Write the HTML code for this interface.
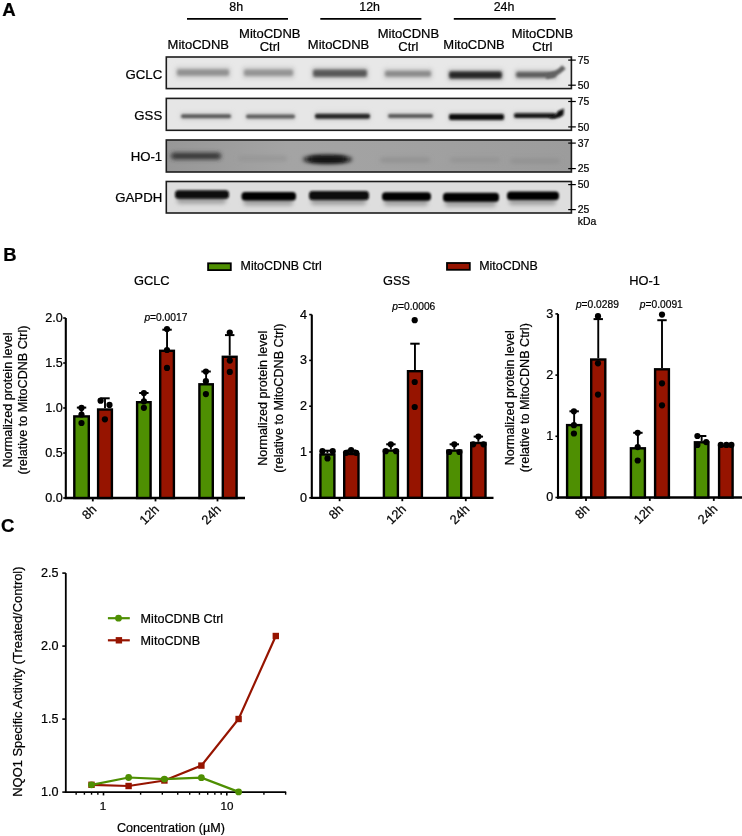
<!DOCTYPE html>
<html><head><meta charset="utf-8"><style>
html,body{margin:0;padding:0;background:#fff;}
svg{display:block;font-family:"Liberation Sans", sans-serif;will-change:transform;} text{stroke:#000;stroke-width:0.22px;}
</style></head><body>
<svg width="742" height="836" viewBox="0 0 742 836" font-family='"Liberation Sans", sans-serif'>
<rect x="0" y="0" width="742" height="836" fill="#fff"/>
<text x="2.20" y="15.50" font-size="18.6" text-anchor="start" font-weight="bold" font-style="normal" >A</text>
<text x="236.20" y="10.80" font-size="12.4" text-anchor="middle" font-weight="normal" font-style="normal" >8h</text>
<line x1="187.00" y1="18.90" x2="288.00" y2="18.90" stroke="#000" stroke-width="1.6" />
<text x="369.60" y="10.80" font-size="12.4" text-anchor="middle" font-weight="normal" font-style="normal" >12h</text>
<line x1="320.30" y1="18.90" x2="421.40" y2="18.90" stroke="#000" stroke-width="1.6" />
<text x="504.00" y="10.80" font-size="12.4" text-anchor="middle" font-weight="normal" font-style="normal" >24h</text>
<line x1="453.80" y1="18.90" x2="555.70" y2="18.90" stroke="#000" stroke-width="1.6" />
<text x="198.30" y="48.70" font-size="13" text-anchor="middle" font-weight="normal" font-style="normal" >MitoCDNB</text>
<text x="269.80" y="37.70" font-size="13" text-anchor="middle" font-weight="normal" font-style="normal" >MitoCDNB</text>
<text x="269.80" y="51.20" font-size="13" text-anchor="middle" font-weight="normal" font-style="normal" >Ctrl</text>
<text x="338.50" y="48.70" font-size="13" text-anchor="middle" font-weight="normal" font-style="normal" >MitoCDNB</text>
<text x="408.40" y="37.70" font-size="13" text-anchor="middle" font-weight="normal" font-style="normal" >MitoCDNB</text>
<text x="408.40" y="51.20" font-size="13" text-anchor="middle" font-weight="normal" font-style="normal" >Ctrl</text>
<text x="474.00" y="48.70" font-size="13" text-anchor="middle" font-weight="normal" font-style="normal" >MitoCDNB</text>
<text x="542.40" y="37.70" font-size="13" text-anchor="middle" font-weight="normal" font-style="normal" >MitoCDNB</text>
<text x="542.40" y="51.20" font-size="13" text-anchor="middle" font-weight="normal" font-style="normal" >Ctrl</text>
<defs><filter id="bl" x="-20%" y="-100%" width="140%" height="300%"><feGaussianBlur stdDeviation="1.1"/></filter><filter id="bl2" x="-20%" y="-100%" width="140%" height="300%"><feGaussianBlur stdDeviation="2.2"/></filter><filter id="bl3" x="-20%" y="-100%" width="140%" height="300%"><feGaussianBlur stdDeviation="1.6"/></filter><clipPath id="c0"><rect x="166.3" y="57" width="405.1" height="31.6"/></clipPath><clipPath id="c1"><rect x="166.3" y="98.4" width="405.1" height="31.9"/></clipPath><clipPath id="c2"><rect x="166.3" y="140" width="405.1" height="32"/></clipPath><clipPath id="c3"><rect x="166.3" y="181.5" width="405.1" height="31.5"/></clipPath><linearGradient id="hog" x1="0" x2="1" y1="0" y2="0"><stop offset="0" stop-color="#979797"/><stop offset="0.3" stop-color="#a4a4a4"/><stop offset="0.55" stop-color="#a2a2a2"/><stop offset="1" stop-color="#9c9c9c"/></linearGradient></defs>
<text x="162.20" y="78.50" font-size="13.2" text-anchor="end" font-weight="normal" font-style="normal" >GCLC</text>
<rect x="166.30" y="57.00" width="405.10" height="31.60" fill="#e8e8e8" stroke="none" stroke-width="0" />
<g clip-path="url(#c0)">
<rect x="175" y="66.35" width="56" height="12.5" rx="3" fill="#d2d2d2" opacity="1" filter="url(#bl2)"/>
<rect x="177" y="69.35" width="52" height="6.5" rx="2" fill="#929292" opacity="1" filter="url(#bl3)"/>
<rect x="242" y="66.55" width="53" height="12.5" rx="3" fill="#d2d2d2" opacity="1" filter="url(#bl2)"/>
<rect x="244" y="69.55" width="49" height="6.5" rx="2" fill="#949494" opacity="1" filter="url(#bl3)"/>
<rect x="311" y="66.45" width="58" height="13.5" rx="3" fill="#d2d2d2" opacity="1" filter="url(#bl2)"/>
<rect x="313" y="69.45" width="54" height="7.5" rx="2" fill="#585858" opacity="1" filter="url(#bl3)"/>
<rect x="383" y="67.80" width="50" height="12" rx="3" fill="#d2d2d2" opacity="1" filter="url(#bl2)"/>
<rect x="385" y="70.80" width="46" height="6" rx="2" fill="#8a8a8a" opacity="1" filter="url(#bl3)"/>
<rect x="447" y="68.25" width="57" height="13.5" rx="3" fill="#d2d2d2" opacity="1" filter="url(#bl2)"/>
<rect x="449" y="71.25" width="53" height="7.5" rx="2" fill="#262626" opacity="1" filter="url(#bl3)"/>
<rect x="514" y="68.80" width="44" height="12" rx="3" fill="#d2d2d2" opacity="1" filter="url(#bl2)"/>
<rect x="516" y="71.80" width="40" height="6" rx="2" fill="#5c5c5c" opacity="1" filter="url(#bl3)"/>
<path d="M546 76.5 Q556 75 564 67" stroke="#626262" stroke-width="5" fill="none" filter="url(#bl)"/>
</g>
<rect x="166.30" y="57.00" width="405.10" height="31.60" fill="none" stroke="#1c1c1c" stroke-width="1.6" />
<line x1="568.20" y1="60.10" x2="575.80" y2="60.10" stroke="#000" stroke-width="1.2" />
<line x1="568.20" y1="85.20" x2="575.80" y2="85.20" stroke="#000" stroke-width="1.2" />
<text x="577.80" y="63.70" font-size="10.4" text-anchor="start" font-weight="normal" font-style="normal" >75</text>
<text x="577.80" y="88.80" font-size="10.4" text-anchor="start" font-weight="normal" font-style="normal" >50</text>
<text x="162.20" y="120.10" font-size="13.2" text-anchor="end" font-weight="normal" font-style="normal" >GSS</text>
<rect x="166.30" y="98.40" width="405.10" height="31.90" fill="#e6e6e6" stroke="none" stroke-width="0" />
<g clip-path="url(#c1)">
<rect x="180" y="112.30" width="52" height="8" rx="3" fill="#cfcfcf" opacity="1" filter="url(#bl2)"/>
<rect x="181" y="114.30" width="50" height="4" rx="2" fill="#5a5a5a" opacity="1" filter="url(#bl)"/>
<rect x="245" y="112.60" width="51" height="8" rx="3" fill="#cfcfcf" opacity="1" filter="url(#bl2)"/>
<rect x="246" y="114.60" width="49" height="4" rx="2" fill="#5e5e5e" opacity="1" filter="url(#bl)"/>
<rect x="314" y="111.80" width="57" height="9" rx="3" fill="#cfcfcf" opacity="1" filter="url(#bl2)"/>
<rect x="315" y="113.80" width="55" height="5" rx="2" fill="#262626" opacity="1" filter="url(#bl)"/>
<rect x="387" y="112.00" width="47" height="8" rx="3" fill="#cfcfcf" opacity="1" filter="url(#bl2)"/>
<rect x="388" y="114.00" width="45" height="4" rx="2" fill="#5c5c5c" opacity="1" filter="url(#bl)"/>
<rect x="448" y="112.00" width="57" height="10" rx="3" fill="#cfcfcf" opacity="1" filter="url(#bl2)"/>
<rect x="449" y="114.00" width="55" height="6" rx="2" fill="#101010" opacity="1" filter="url(#bl)"/>
<rect x="513" y="111.20" width="44" height="8.8" rx="3" fill="#cfcfcf" opacity="1" filter="url(#bl2)"/>
<rect x="514" y="113.20" width="42" height="4.8" rx="2" fill="#161616" opacity="1" filter="url(#bl)"/>
<path d="M548 116.5 Q556 116.5 558 111 L564 108.5 L563.5 115 Q560 118.5 551 118.5 Z" fill="#111" filter="url(#bl)"/>
</g>
<rect x="166.30" y="98.40" width="405.10" height="31.90" fill="none" stroke="#1c1c1c" stroke-width="1.6" />
<line x1="568.20" y1="101.50" x2="575.80" y2="101.50" stroke="#000" stroke-width="1.2" />
<line x1="568.20" y1="126.90" x2="575.80" y2="126.90" stroke="#000" stroke-width="1.2" />
<text x="577.80" y="105.10" font-size="10.4" text-anchor="start" font-weight="normal" font-style="normal" >75</text>
<text x="577.80" y="130.50" font-size="10.4" text-anchor="start" font-weight="normal" font-style="normal" >50</text>
<text x="162.20" y="161.40" font-size="13.2" text-anchor="end" font-weight="normal" font-style="normal" >HO-1</text>
<rect x="166.30" y="140.00" width="405.10" height="32.00" fill="url(#hog)" stroke="none" stroke-width="0" />
<g clip-path="url(#c2)">
<rect x="171" y="152.75" width="50" height="6.5" rx="3.25" fill="#303030" opacity="1" filter="url(#bl2)"/>
<rect x="238" y="156.10" width="49" height="5" rx="2.5" fill="#969696" opacity="1" filter="url(#bl2)"/>
<ellipse cx="327.5" cy="159.4" rx="24.5" ry="4.2" fill="#0c0c0c" filter="url(#bl2)"/>
<rect x="310" y="157.0" width="35" height="4.2" rx="2.1" fill="#0c0c0c" filter="url(#bl2)"/>
<rect x="380" y="157.50" width="50" height="5" rx="2.5" fill="#929292" opacity="1" filter="url(#bl2)"/>
<rect x="450" y="157.50" width="50" height="5" rx="2.5" fill="#949494" opacity="1" filter="url(#bl2)"/>
<rect x="510" y="158.50" width="50" height="5" rx="2.5" fill="#929292" opacity="1" filter="url(#bl2)"/>
</g>
<rect x="166.30" y="140.00" width="405.10" height="32.00" fill="none" stroke="#1c1c1c" stroke-width="1.6" />
<line x1="568.20" y1="143.10" x2="575.80" y2="143.10" stroke="#000" stroke-width="1.2" />
<line x1="568.20" y1="168.60" x2="575.80" y2="168.60" stroke="#000" stroke-width="1.2" />
<text x="577.80" y="146.70" font-size="10.4" text-anchor="start" font-weight="normal" font-style="normal" >37</text>
<text x="577.80" y="172.20" font-size="10.4" text-anchor="start" font-weight="normal" font-style="normal" >25</text>
<text x="162.20" y="202.40" font-size="13.2" text-anchor="end" font-weight="normal" font-style="normal" >GAPDH</text>
<rect x="166.30" y="181.50" width="405.10" height="31.50" fill="#dedede" stroke="none" stroke-width="0" />
<g clip-path="url(#c3)">
<rect x="177" y="196.25" width="49" height="7.5" rx="3" fill="#a0a0a0" opacity="1" filter="url(#bl2)"/>
<rect x="175" y="190.25" width="54" height="8.5" rx="3.5" fill="#080808" opacity="1" filter="url(#bl)"/>
<rect x="243.5" y="197.95" width="49.5" height="7.5" rx="3" fill="#a0a0a0" opacity="1" filter="url(#bl2)"/>
<rect x="241.5" y="191.95" width="54.5" height="8.5" rx="3.5" fill="#040404" opacity="1" filter="url(#bl)"/>
<rect x="311" y="197.00" width="55" height="8" rx="3" fill="#a0a0a0" opacity="1" filter="url(#bl2)"/>
<rect x="309" y="191.00" width="60" height="9" rx="3.5" fill="#080808" opacity="1" filter="url(#bl)"/>
<rect x="384" y="198.15" width="44" height="7.5" rx="3" fill="#a0a0a0" opacity="1" filter="url(#bl2)"/>
<rect x="382" y="192.15" width="49" height="8.5" rx="3.5" fill="#060606" opacity="1" filter="url(#bl)"/>
<rect x="445" y="198.80" width="51" height="8" rx="3" fill="#a0a0a0" opacity="1" filter="url(#bl2)"/>
<rect x="443" y="192.80" width="56" height="9" rx="3.5" fill="#040404" opacity="1" filter="url(#bl)"/>
<rect x="509" y="197.55" width="47" height="7.5" rx="3" fill="#a0a0a0" opacity="1" filter="url(#bl2)"/>
<rect x="507" y="191.55" width="52" height="8.5" rx="3.5" fill="#040404" opacity="1" filter="url(#bl)"/>
</g>
<rect x="166.30" y="181.50" width="405.10" height="31.50" fill="none" stroke="#1c1c1c" stroke-width="1.6" />
<line x1="568.20" y1="184.60" x2="575.80" y2="184.60" stroke="#000" stroke-width="1.2" />
<line x1="568.20" y1="209.60" x2="575.80" y2="209.60" stroke="#000" stroke-width="1.2" />
<text x="577.80" y="188.20" font-size="10.4" text-anchor="start" font-weight="normal" font-style="normal" >50</text>
<text x="577.80" y="213.20" font-size="10.4" text-anchor="start" font-weight="normal" font-style="normal" >25</text>
<text x="577.80" y="224.90" font-size="10.4" text-anchor="start" font-weight="normal" font-style="normal" >kDa</text>
<text x="3.20" y="260.50" font-size="18.4" text-anchor="start" font-weight="bold" font-style="normal" >B</text>
<rect x="208.10" y="263.30" width="22.70" height="6.80" fill="#4e8f02" stroke="#000" stroke-width="1.8" />
<text x="240.60" y="270.30" font-size="12.4" text-anchor="start" font-weight="normal" font-style="normal" >MitoCDNB Ctrl</text>
<rect x="447.00" y="263.00" width="22.80" height="6.80" fill="#961400" stroke="#000" stroke-width="1.8" />
<text x="479.30" y="270.30" font-size="12.4" text-anchor="start" font-weight="normal" font-style="normal" >MitoCDNB</text>
<text x="151.80" y="285.30" font-size="12.8" text-anchor="middle" font-weight="normal" font-style="normal" >GCLC</text>
<line x1="65.80" y1="318.00" x2="65.80" y2="499.10" stroke="#000" stroke-width="2.1" />
<line x1="63.20" y1="498.00" x2="65.80" y2="498.00" stroke="#000" stroke-width="1.6" />
<text x="62.80" y="501.90" font-size="12.6" text-anchor="end" font-weight="normal" font-style="normal" >0.0</text>
<line x1="63.20" y1="453.00" x2="65.80" y2="453.00" stroke="#000" stroke-width="1.6" />
<text x="62.80" y="456.90" font-size="12.6" text-anchor="end" font-weight="normal" font-style="normal" >0.5</text>
<line x1="63.20" y1="408.00" x2="65.80" y2="408.00" stroke="#000" stroke-width="1.6" />
<text x="62.80" y="411.90" font-size="12.6" text-anchor="end" font-weight="normal" font-style="normal" >1.0</text>
<line x1="63.20" y1="363.00" x2="65.80" y2="363.00" stroke="#000" stroke-width="1.6" />
<text x="62.80" y="366.90" font-size="12.6" text-anchor="end" font-weight="normal" font-style="normal" >1.5</text>
<line x1="63.20" y1="318.00" x2="65.80" y2="318.00" stroke="#000" stroke-width="1.6" />
<text x="62.80" y="321.90" font-size="12.6" text-anchor="end" font-weight="normal" font-style="normal" >2.0</text>
<line x1="64.75" y1="498.00" x2="245.00" y2="498.00" stroke="#000" stroke-width="2.3" />
<line x1="92.80" y1="498.00" x2="92.80" y2="501.40" stroke="#000" stroke-width="1.8" />
<text x="0" y="0" font-size="12.8" text-anchor="end" transform="translate(97.20,510.20) rotate(-45)">8h</text>
<line x1="155.50" y1="498.00" x2="155.50" y2="501.40" stroke="#000" stroke-width="1.8" />
<text x="0" y="0" font-size="12.8" text-anchor="end" transform="translate(159.90,510.20) rotate(-45)">12h</text>
<line x1="217.50" y1="498.00" x2="217.50" y2="501.40" stroke="#000" stroke-width="1.8" />
<text x="0" y="0" font-size="12.8" text-anchor="end" transform="translate(221.90,510.20) rotate(-45)">24h</text>
<rect x="74.30" y="416.40" width="14.50" height="81.60" fill="#4e8f02" stroke="#000" stroke-width="2.4" />
<line x1="81.55" y1="415.20" x2="81.55" y2="407.60" stroke="#000" stroke-width="1.9" />
<line x1="76.85" y1="407.60" x2="86.25" y2="407.60" stroke="#000" stroke-width="2.0" />
<circle cx="81.50" cy="407.90" r="3.1" fill="#000" />
<circle cx="81.50" cy="414.50" r="3.1" fill="#000" />
<circle cx="81.50" cy="423.00" r="3.1" fill="#000" />
<rect x="98.10" y="409.50" width="13.80" height="88.50" fill="#961400" stroke="#000" stroke-width="2.4" />
<line x1="105.00" y1="408.30" x2="105.00" y2="398.30" stroke="#000" stroke-width="1.9" />
<line x1="100.30" y1="398.30" x2="109.70" y2="398.30" stroke="#000" stroke-width="2.0" />
<circle cx="100.60" cy="400.70" r="3.1" fill="#000" />
<circle cx="109.50" cy="404.90" r="3.1" fill="#000" />
<circle cx="104.90" cy="419.30" r="3.1" fill="#000" />
<rect x="137.10" y="402.20" width="13.50" height="95.80" fill="#4e8f02" stroke="#000" stroke-width="2.4" />
<line x1="143.85" y1="401.00" x2="143.85" y2="393.00" stroke="#000" stroke-width="1.9" />
<line x1="139.15" y1="393.00" x2="148.55" y2="393.00" stroke="#000" stroke-width="2.0" />
<circle cx="143.90" cy="393.00" r="3.1" fill="#000" />
<circle cx="143.90" cy="401.40" r="3.1" fill="#000" />
<circle cx="143.90" cy="407.80" r="3.1" fill="#000" />
<rect x="160.20" y="350.80" width="13.70" height="147.20" fill="#961400" stroke="#000" stroke-width="2.4" />
<line x1="167.05" y1="349.60" x2="167.05" y2="329.70" stroke="#000" stroke-width="1.9" />
<line x1="162.35" y1="329.70" x2="171.75" y2="329.70" stroke="#000" stroke-width="2.0" />
<circle cx="167.00" cy="329.10" r="3.1" fill="#000" />
<circle cx="167.00" cy="350.00" r="3.1" fill="#000" />
<circle cx="167.00" cy="367.90" r="3.1" fill="#000" />
<rect x="199.40" y="384.30" width="13.40" height="113.70" fill="#4e8f02" stroke="#000" stroke-width="2.4" />
<line x1="206.10" y1="383.10" x2="206.10" y2="371.50" stroke="#000" stroke-width="1.9" />
<line x1="201.40" y1="371.50" x2="210.80" y2="371.50" stroke="#000" stroke-width="2.0" />
<circle cx="205.90" cy="371.50" r="3.1" fill="#000" />
<circle cx="205.90" cy="381.20" r="3.1" fill="#000" />
<circle cx="205.90" cy="394.10" r="3.1" fill="#000" />
<rect x="222.80" y="356.80" width="13.80" height="141.20" fill="#961400" stroke="#000" stroke-width="2.4" />
<line x1="229.70" y1="355.60" x2="229.70" y2="335.10" stroke="#000" stroke-width="1.9" />
<line x1="225.00" y1="335.10" x2="234.40" y2="335.10" stroke="#000" stroke-width="2.0" />
<circle cx="229.80" cy="332.60" r="3.1" fill="#000" />
<circle cx="229.80" cy="360.60" r="3.1" fill="#000" />
<circle cx="229.80" cy="371.90" r="3.1" fill="#000" />
<text x="0" y="0" font-size="12.6" text-anchor="middle" transform="translate(11.50,400.00) rotate(-90)">Normalized protein level</text>
<text x="0" y="0" font-size="12.6" text-anchor="middle" transform="translate(27.00,400.00) rotate(-90)">(relative to MitoCDNB Ctrl)</text>
<text x="144.40" y="321.20" font-size="11.3" textLength="43" lengthAdjust="spacingAndGlyphs"><tspan font-style="italic">p</tspan>=0.0017</text>
<text x="396.50" y="285.30" font-size="12.8" text-anchor="middle" font-weight="normal" font-style="normal" >GSS</text>
<line x1="311.80" y1="314.60" x2="311.80" y2="498.90" stroke="#000" stroke-width="2.1" />
<line x1="309.20" y1="497.80" x2="311.80" y2="497.80" stroke="#000" stroke-width="1.6" />
<text x="307.00" y="501.70" font-size="12.6" text-anchor="end" font-weight="normal" font-style="normal" >0</text>
<line x1="309.20" y1="452.00" x2="311.80" y2="452.00" stroke="#000" stroke-width="1.6" />
<text x="307.00" y="455.90" font-size="12.6" text-anchor="end" font-weight="normal" font-style="normal" >1</text>
<line x1="309.20" y1="406.20" x2="311.80" y2="406.20" stroke="#000" stroke-width="1.6" />
<text x="307.00" y="410.10" font-size="12.6" text-anchor="end" font-weight="normal" font-style="normal" >2</text>
<line x1="309.20" y1="360.40" x2="311.80" y2="360.40" stroke="#000" stroke-width="1.6" />
<text x="307.00" y="364.30" font-size="12.6" text-anchor="end" font-weight="normal" font-style="normal" >3</text>
<line x1="309.20" y1="314.60" x2="311.80" y2="314.60" stroke="#000" stroke-width="1.6" />
<text x="307.00" y="318.50" font-size="12.6" text-anchor="end" font-weight="normal" font-style="normal" >4</text>
<line x1="310.75" y1="497.80" x2="493.50" y2="497.80" stroke="#000" stroke-width="2.3" />
<line x1="339.60" y1="497.80" x2="339.60" y2="501.20" stroke="#000" stroke-width="1.8" />
<text x="0" y="0" font-size="12.8" text-anchor="end" transform="translate(344.00,510.00) rotate(-45)">8h</text>
<line x1="402.30" y1="497.80" x2="402.30" y2="501.20" stroke="#000" stroke-width="1.8" />
<text x="0" y="0" font-size="12.8" text-anchor="end" transform="translate(406.70,510.00) rotate(-45)">12h</text>
<line x1="465.80" y1="497.80" x2="465.80" y2="501.20" stroke="#000" stroke-width="1.8" />
<text x="0" y="0" font-size="12.8" text-anchor="end" transform="translate(470.20,510.00) rotate(-45)">24h</text>
<rect x="320.40" y="454.50" width="14.00" height="43.30" fill="#4e8f02" stroke="#000" stroke-width="2.4" />
<line x1="327.40" y1="453.30" x2="327.40" y2="450.70" stroke="#000" stroke-width="1.9" />
<line x1="322.70" y1="450.70" x2="332.10" y2="450.70" stroke="#000" stroke-width="2.0" />
<circle cx="322.40" cy="451.20" r="3.1" fill="#000" />
<circle cx="332.70" cy="451.20" r="3.1" fill="#000" />
<circle cx="327.50" cy="458.40" r="3.1" fill="#000" />
<rect x="344.20" y="454.00" width="14.30" height="43.80" fill="#961400" stroke="#000" stroke-width="2.4" />
<line x1="351.35" y1="452.80" x2="351.35" y2="450.50" stroke="#000" stroke-width="1.9" />
<line x1="346.65" y1="450.50" x2="356.05" y2="450.50" stroke="#000" stroke-width="2.0" />
<circle cx="346.00" cy="452.80" r="3.1" fill="#000" />
<circle cx="351.10" cy="450.20" r="3.1" fill="#000" />
<circle cx="356.20" cy="452.80" r="3.1" fill="#000" />
<rect x="383.90" y="450.60" width="14.00" height="47.20" fill="#4e8f02" stroke="#000" stroke-width="2.4" />
<line x1="390.90" y1="449.40" x2="390.90" y2="444.30" stroke="#000" stroke-width="1.9" />
<line x1="386.20" y1="444.30" x2="395.60" y2="444.30" stroke="#000" stroke-width="2.0" />
<circle cx="390.80" cy="444.30" r="3.1" fill="#000" />
<circle cx="385.70" cy="451.20" r="3.1" fill="#000" />
<circle cx="396.00" cy="451.20" r="3.1" fill="#000" />
<rect x="408.00" y="371.20" width="13.90" height="126.60" fill="#961400" stroke="#000" stroke-width="2.4" />
<line x1="414.95" y1="370.00" x2="414.95" y2="343.70" stroke="#000" stroke-width="1.9" />
<line x1="410.25" y1="343.70" x2="419.65" y2="343.70" stroke="#000" stroke-width="2.0" />
<circle cx="414.70" cy="320.20" r="3.1" fill="#000" />
<circle cx="414.70" cy="382.00" r="3.1" fill="#000" />
<circle cx="414.70" cy="407.00" r="3.1" fill="#000" />
<rect x="447.40" y="450.60" width="13.80" height="47.20" fill="#4e8f02" stroke="#000" stroke-width="2.4" />
<line x1="454.30" y1="449.40" x2="454.30" y2="444.30" stroke="#000" stroke-width="1.9" />
<line x1="449.60" y1="444.30" x2="459.00" y2="444.30" stroke="#000" stroke-width="2.0" />
<circle cx="454.30" cy="444.30" r="3.1" fill="#000" />
<circle cx="449.20" cy="452.00" r="3.1" fill="#000" />
<circle cx="459.40" cy="452.00" r="3.1" fill="#000" />
<rect x="471.20" y="443.00" width="14.30" height="54.80" fill="#961400" stroke="#000" stroke-width="2.4" />
<line x1="478.35" y1="441.80" x2="478.35" y2="436.60" stroke="#000" stroke-width="1.9" />
<line x1="473.65" y1="436.60" x2="483.05" y2="436.60" stroke="#000" stroke-width="2.0" />
<circle cx="478.40" cy="436.60" r="3.1" fill="#000" />
<circle cx="473.20" cy="444.30" r="3.1" fill="#000" />
<circle cx="483.50" cy="444.30" r="3.1" fill="#000" />
<text x="0" y="0" font-size="12.6" text-anchor="middle" transform="translate(267.00,398.20) rotate(-90)">Normalized protein level</text>
<text x="0" y="0" font-size="12.6" text-anchor="middle" transform="translate(282.50,398.20) rotate(-90)">(relative to MitoCDNB Ctrl)</text>
<text x="392.30" y="310.00" font-size="11.3" textLength="43" lengthAdjust="spacingAndGlyphs"><tspan font-style="italic">p</tspan>=0.0006</text>
<text x="644.50" y="285.30" font-size="12.8" text-anchor="middle" font-weight="normal" font-style="normal" >HO-1</text>
<line x1="558.00" y1="313.90" x2="558.00" y2="498.60" stroke="#000" stroke-width="2.1" />
<line x1="555.40" y1="497.50" x2="558.00" y2="497.50" stroke="#000" stroke-width="1.6" />
<text x="553.20" y="501.40" font-size="12.6" text-anchor="end" font-weight="normal" font-style="normal" >0</text>
<line x1="555.40" y1="436.30" x2="558.00" y2="436.30" stroke="#000" stroke-width="1.6" />
<text x="553.20" y="440.20" font-size="12.6" text-anchor="end" font-weight="normal" font-style="normal" >1</text>
<line x1="555.40" y1="375.10" x2="558.00" y2="375.10" stroke="#000" stroke-width="1.6" />
<text x="553.20" y="379.00" font-size="12.6" text-anchor="end" font-weight="normal" font-style="normal" >2</text>
<line x1="555.40" y1="313.90" x2="558.00" y2="313.90" stroke="#000" stroke-width="1.6" />
<text x="553.20" y="317.80" font-size="12.6" text-anchor="end" font-weight="normal" font-style="normal" >3</text>
<line x1="556.95" y1="497.50" x2="742.00" y2="497.50" stroke="#000" stroke-width="2.3" />
<line x1="586.00" y1="497.50" x2="586.00" y2="500.90" stroke="#000" stroke-width="1.8" />
<text x="0" y="0" font-size="12.8" text-anchor="end" transform="translate(590.40,509.70) rotate(-45)">8h</text>
<line x1="649.80" y1="497.50" x2="649.80" y2="500.90" stroke="#000" stroke-width="1.8" />
<text x="0" y="0" font-size="12.8" text-anchor="end" transform="translate(654.20,509.70) rotate(-45)">12h</text>
<line x1="713.80" y1="497.50" x2="713.80" y2="500.90" stroke="#000" stroke-width="1.8" />
<text x="0" y="0" font-size="12.8" text-anchor="end" transform="translate(718.20,509.70) rotate(-45)">24h</text>
<rect x="567.10" y="425.10" width="14.10" height="72.40" fill="#4e8f02" stroke="#000" stroke-width="2.4" />
<line x1="574.15" y1="423.90" x2="574.15" y2="411.30" stroke="#000" stroke-width="1.9" />
<line x1="569.45" y1="411.30" x2="578.85" y2="411.30" stroke="#000" stroke-width="2.0" />
<circle cx="573.90" cy="411.30" r="3.1" fill="#000" />
<circle cx="573.90" cy="425.20" r="3.1" fill="#000" />
<circle cx="573.90" cy="433.50" r="3.1" fill="#000" />
<rect x="591.20" y="359.50" width="14.10" height="138.00" fill="#961400" stroke="#000" stroke-width="2.4" />
<line x1="598.25" y1="358.30" x2="598.25" y2="319.10" stroke="#000" stroke-width="1.9" />
<line x1="593.55" y1="319.10" x2="602.95" y2="319.10" stroke="#000" stroke-width="2.0" />
<circle cx="598.00" cy="316.20" r="3.1" fill="#000" />
<circle cx="598.00" cy="363.30" r="3.1" fill="#000" />
<circle cx="598.00" cy="394.60" r="3.1" fill="#000" />
<rect x="630.90" y="448.30" width="14.00" height="49.20" fill="#4e8f02" stroke="#000" stroke-width="2.4" />
<line x1="637.90" y1="447.10" x2="637.90" y2="432.80" stroke="#000" stroke-width="1.9" />
<line x1="633.20" y1="432.80" x2="642.60" y2="432.80" stroke="#000" stroke-width="2.0" />
<circle cx="637.70" cy="432.80" r="3.1" fill="#000" />
<circle cx="637.70" cy="447.10" r="3.1" fill="#000" />
<circle cx="637.70" cy="460.50" r="3.1" fill="#000" />
<rect x="655.10" y="369.30" width="13.80" height="128.20" fill="#961400" stroke="#000" stroke-width="2.4" />
<line x1="662.00" y1="368.10" x2="662.00" y2="320.20" stroke="#000" stroke-width="1.9" />
<line x1="657.30" y1="320.20" x2="666.70" y2="320.20" stroke="#000" stroke-width="2.0" />
<circle cx="662.00" cy="314.60" r="3.1" fill="#000" />
<circle cx="662.00" cy="383.30" r="3.1" fill="#000" />
<circle cx="662.00" cy="405.30" r="3.1" fill="#000" />
<rect x="694.90" y="442.30" width="13.50" height="55.20" fill="#4e8f02" stroke="#000" stroke-width="2.4" />
<line x1="701.65" y1="441.10" x2="701.65" y2="436.00" stroke="#000" stroke-width="1.9" />
<line x1="696.95" y1="436.00" x2="706.35" y2="436.00" stroke="#000" stroke-width="2.0" />
<circle cx="697.40" cy="436.00" r="3.1" fill="#000" />
<circle cx="697.40" cy="444.90" r="3.1" fill="#000" />
<circle cx="706.20" cy="442.10" r="3.1" fill="#000" />
<rect x="719.10" y="446.10" width="13.50" height="51.40" fill="#961400" stroke="#000" stroke-width="2.4" />
<circle cx="720.80" cy="444.90" r="3.1" fill="#000" />
<circle cx="726.40" cy="444.90" r="3.1" fill="#000" />
<circle cx="731.40" cy="444.90" r="3.1" fill="#000" />
<text x="0" y="0" font-size="12.6" text-anchor="middle" transform="translate(513.50,397.70) rotate(-90)">Normalized protein level</text>
<text x="0" y="0" font-size="12.6" text-anchor="middle" transform="translate(529.00,397.70) rotate(-90)">(relative to MitoCDNB Ctrl)</text>
<text x="575.90" y="307.80" font-size="11.3" textLength="43" lengthAdjust="spacingAndGlyphs"><tspan font-style="italic">p</tspan>=0.0289</text>
<text x="639.80" y="307.80" font-size="11.3" textLength="43" lengthAdjust="spacingAndGlyphs"><tspan font-style="italic">p</tspan>=0.0091</text>
<text x="1.10" y="531.80" font-size="18.6" text-anchor="start" font-weight="bold" font-style="normal" >C</text>
<line x1="65.80" y1="573.10" x2="65.80" y2="792.90" stroke="#000" stroke-width="1.8" />
<line x1="62.30" y1="792.10" x2="65.80" y2="792.10" stroke="#000" stroke-width="1.6" />
<text x="58.40" y="795.70" font-size="12.6" text-anchor="end" font-weight="normal" font-style="normal" >1.0</text>
<line x1="62.30" y1="719.10" x2="65.80" y2="719.10" stroke="#000" stroke-width="1.6" />
<text x="58.40" y="722.70" font-size="12.6" text-anchor="end" font-weight="normal" font-style="normal" >1.5</text>
<line x1="62.30" y1="646.10" x2="65.80" y2="646.10" stroke="#000" stroke-width="1.6" />
<text x="58.40" y="649.70" font-size="12.6" text-anchor="end" font-weight="normal" font-style="normal" >2.0</text>
<line x1="62.30" y1="573.10" x2="65.80" y2="573.10" stroke="#000" stroke-width="1.6" />
<text x="58.40" y="576.70" font-size="12.6" text-anchor="end" font-weight="normal" font-style="normal" >2.5</text>
<line x1="64.90" y1="792.10" x2="286.16" y2="792.10" stroke="#000" stroke-width="1.9" />
<line x1="76.15" y1="792.10" x2="76.15" y2="794.70" stroke="#000" stroke-width="1.4" />
<line x1="84.40" y1="792.10" x2="84.40" y2="794.70" stroke="#000" stroke-width="1.4" />
<line x1="91.55" y1="792.10" x2="91.55" y2="794.70" stroke="#000" stroke-width="1.4" />
<line x1="97.86" y1="792.10" x2="97.86" y2="794.70" stroke="#000" stroke-width="1.4" />
<line x1="140.62" y1="792.10" x2="140.62" y2="794.70" stroke="#000" stroke-width="1.4" />
<line x1="162.33" y1="792.10" x2="162.33" y2="794.70" stroke="#000" stroke-width="1.4" />
<line x1="177.73" y1="792.10" x2="177.73" y2="794.70" stroke="#000" stroke-width="1.4" />
<line x1="189.68" y1="792.10" x2="189.68" y2="794.70" stroke="#000" stroke-width="1.4" />
<line x1="199.45" y1="792.10" x2="199.45" y2="794.70" stroke="#000" stroke-width="1.4" />
<line x1="207.70" y1="792.10" x2="207.70" y2="794.70" stroke="#000" stroke-width="1.4" />
<line x1="214.85" y1="792.10" x2="214.85" y2="794.70" stroke="#000" stroke-width="1.4" />
<line x1="221.16" y1="792.10" x2="221.16" y2="794.70" stroke="#000" stroke-width="1.4" />
<line x1="263.92" y1="792.10" x2="263.92" y2="794.70" stroke="#000" stroke-width="1.4" />
<line x1="285.63" y1="792.10" x2="285.63" y2="794.70" stroke="#000" stroke-width="1.4" />
<line x1="103.50" y1="792.10" x2="103.50" y2="795.40" stroke="#000" stroke-width="1.6" />
<line x1="226.80" y1="792.10" x2="226.80" y2="795.40" stroke="#000" stroke-width="1.6" />
<text x="103.00" y="810.40" font-size="11.6" text-anchor="middle" font-weight="normal" font-style="normal" >1</text>
<text x="227.00" y="810.40" font-size="11.6" text-anchor="middle" font-weight="normal" font-style="normal" >10</text>
<text x="170.90" y="832.00" font-size="12.6" text-anchor="middle" font-weight="normal" font-style="normal" >Concentration (µM)</text>
<text x="0" y="0" font-size="12.9" text-anchor="middle" transform="translate(22.2,681.6) rotate(-90)">NQO1 Specific Activity (Treated/Control)</text>
<polyline points="91.5,784.8 128.6,786.0 164.4,780.5 201.4,765.6 238.6,719.0 275.8,636.0" fill="none" stroke="#961400" stroke-width="2.2"/>
<rect x="88.30" y="781.60" width="6.40" height="6.40" fill="#961400" stroke="none" stroke-width="0" />
<rect x="125.40" y="782.80" width="6.40" height="6.40" fill="#961400" stroke="none" stroke-width="0" />
<rect x="161.20" y="777.30" width="6.40" height="6.40" fill="#961400" stroke="none" stroke-width="0" />
<rect x="198.20" y="762.40" width="6.40" height="6.40" fill="#961400" stroke="none" stroke-width="0" />
<rect x="235.40" y="715.80" width="6.40" height="6.40" fill="#961400" stroke="none" stroke-width="0" />
<rect x="272.60" y="632.80" width="6.40" height="6.40" fill="#961400" stroke="none" stroke-width="0" />
<polyline points="91.5,784.8 128.6,777.5 164.4,779.1 201.4,777.7 238.6,791.9" fill="none" stroke="#4e8f02" stroke-width="2.2"/>
<circle cx="91.50" cy="784.80" r="3.4" fill="#4e8f02" />
<circle cx="128.60" cy="777.50" r="3.4" fill="#4e8f02" />
<circle cx="164.40" cy="779.10" r="3.4" fill="#4e8f02" />
<circle cx="201.40" cy="777.70" r="3.4" fill="#4e8f02" />
<circle cx="238.60" cy="791.90" r="3.4" fill="#4e8f02" />
<line x1="107.90" y1="618.20" x2="129.80" y2="618.20" stroke="#4e8f02" stroke-width="2.2" />
<circle cx="118.50" cy="618.20" r="3.4" fill="#4e8f02" />
<text x="140.60" y="622.90" font-size="12.6" text-anchor="start" font-weight="normal" font-style="normal" >MitoCDNB Ctrl</text>
<line x1="107.90" y1="640.30" x2="129.80" y2="640.30" stroke="#961400" stroke-width="2.2" />
<rect x="115.70" y="637.10" width="6.40" height="6.40" fill="#961400" stroke="none" stroke-width="0" />
<text x="140.60" y="645.00" font-size="12.6" text-anchor="start" font-weight="normal" font-style="normal" >MitoCDNB</text>
</svg>
</body></html>
